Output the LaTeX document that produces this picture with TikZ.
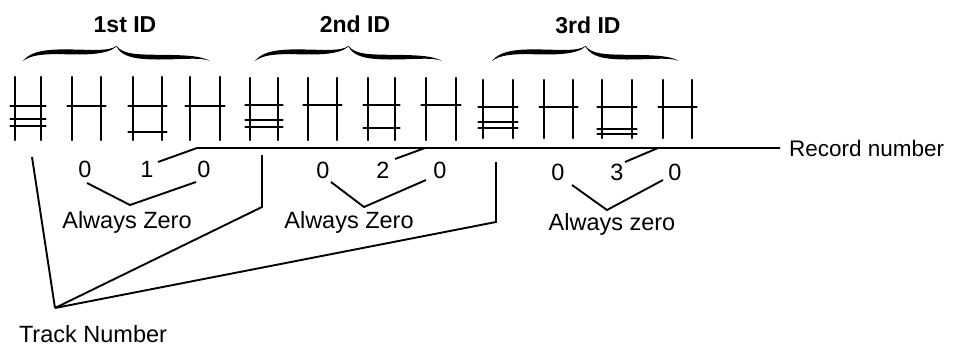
\documentclass[tikz,border=0pt]{standalone}
\usepackage{fontspec}
\setmainfont{Liberation Sans}
\tikzset{
  hline/.style={line width=2.6bp, line cap=round},
  conn/.style={line width=1.9bp},
  lbl/.style={font=\fontsize{23.5bp}{28bp}\selectfont, inner sep=0pt, anchor=base},
  reclbl/.style={font=\fontsize{22.5bp}{26bp}\selectfont, inner sep=0pt, anchor=base west},
  hdr/.style={font=\bfseries\fontsize{23bp}{28bp}\selectfont, inner sep=0pt, anchor=base},
  idbrace/.pic={
    \fill (0,61) .. controls (6,53) and (18,49.5) .. (40,49.4)
      .. controls (65,49.3) and (85,52) .. (93.5,46)
      .. controls (100,54) and (112,54.5) .. (135,54.8)
      .. controls (160,55) and (178,55.5) .. (187,61)
      .. controls (178,57) and (160,59.5) .. (135,59.5)
      .. controls (112,59.3) and (99,57) .. (93.5,46.6)
      .. controls (84,55) and (62,54.8) .. (40,54.2)
      .. controls (20,53.8) and (8,55) .. (0,61) -- cycle;
  }
}
\newcommand\hsym[5]{%
  \draw[hline] (#1,#3) -- (#1,#4) (#2,#3) -- (#2,#4);
  \foreach \b in {#5} {\draw[hline] (#1-4.5,\b) -- (#2+4.5,\b);}%
}
\begin{document}
\begin{tikzpicture}[x=1bp,y=-1bp]
\useasboundingbox (0,0) rectangle (953,346);

% headers and braces
\node[hdr] (id1) at (125,32) {1st ID};
\node[hdr] (id2) at (355,32) {2nd ID};
\node[hdr] (id3) at (588,33) {3rd ID};
\pic at (23,0) {idbrace};
\pic at (255,0) {idbrace};
\pic at (492,0) {idbrace};

% flux symbols
\hsym{15}{41}{77}{140}{106,119,126}
\hsym{72}{101}{77}{140}{106}
\hsym{133}{162}{77}{140}{106,132}
\hsym{190}{220}{77}{140}{106}
\hsym{250}{278}{78}{140}{105,120,127}
\hsym{308}{337}{78}{140}{105}
\hsym{368}{395}{78}{140}{105,128}
\hsym{426}{456}{78}{140}{105}
\hsym{483}{513}{80}{138}{107,122,128}
\hsym{544}{573}{80}{138}{107}
\hsym{602}{632}{80}{138}{107,129,134}
\hsym{663}{692}{80}{138}{107}

% digits
\node[lbl] (a0) at (85,177) {0};
\node[lbl] (a1) at (147,177) {1};
\node[lbl] (a2) at (204,177) {0};
\node[lbl] (b0) at (323,178) {0};
\node[lbl] (b1) at (383,178) {2};
\node[lbl] (b2) at (440,178) {0};
\node[lbl] (c0) at (558,180) {0};
\node[lbl] (c1) at (617,180) {3};
\node[lbl] (c2) at (675,180) {0};

% labels
\node[lbl] (z1) at (127,228) {Always Zero};
\node[lbl] (z2) at (349,228) {Always Zero};
\node[lbl] (z3) at (612,230) {Always zero};
\node[reclbl] (rec) at (789,156) {Record number};
\node[lbl] (trk) at (93,342) {Track Number};

% connector points
\coordinate (r1a) at (158,162); \coordinate (r1b) at (197,148);
\coordinate (r2a) at (395,159); \coordinate (r2b) at (425,148);
\coordinate (r3a) at (625,162); \coordinate (r3b) at (658,148);
\coordinate (rend) at (780,148);

\coordinate (v1l) at (87,183); \coordinate (v1b) at (130,205); \coordinate (v1r) at (196,182);
\coordinate (v2l) at (331,182); \coordinate (v2b) at (364,207); \coordinate (v2r) at (426,180);
\coordinate (v3l) at (572,185); \coordinate (v3b) at (607,210); \coordinate (v3r) at (663,180);

\coordinate (apex) at (55,308);
\coordinate (t1) at (32,157);
\coordinate (t2a) at (262,155); \coordinate (t2b) at (262,207);
\coordinate (t3a) at (496,162); \coordinate (t3b) at (496,222);

% record number connectors
\draw[conn] (r1a) -- (r1b) -- (rend);
\draw[conn] (r2a) -- (r2b);
\draw[conn] (r3a) -- (r3b);

% always zero
\draw[conn] (v1l) -- (v1b) -- (v1r);
\draw[conn] (v2l) -- (v2b) -- (v2r);
\draw[conn] (v3l) -- (v3b) -- (v3r);

% track number
\draw[conn] (t1) -- (apex);
\draw[conn] (t2a) -- (t2b) -- (apex);
\draw[conn] (t3a) -- (t3b) -- (apex);
\end{tikzpicture}
\end{document}
